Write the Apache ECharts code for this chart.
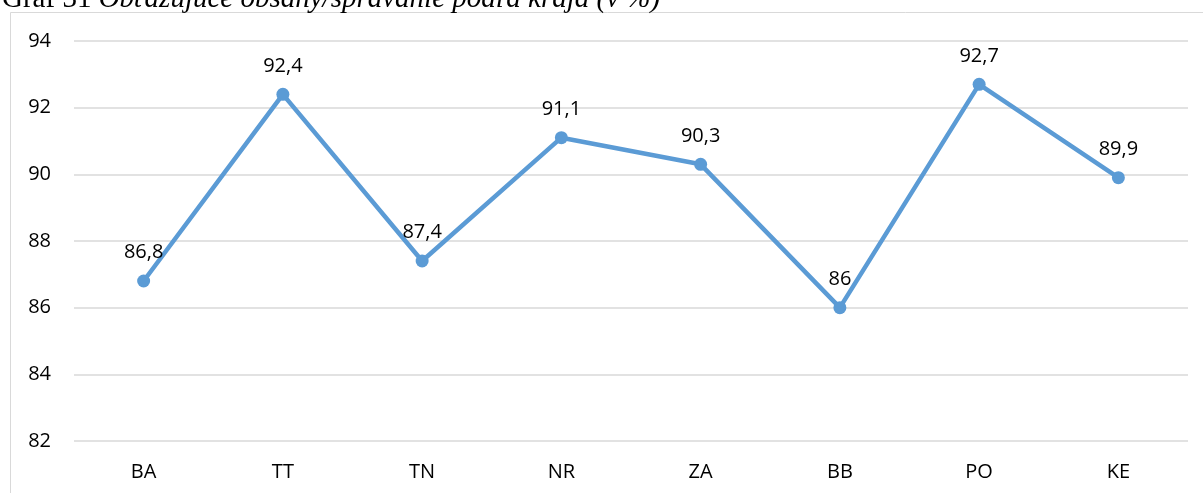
<!DOCTYPE html>
<html>
<head>
<meta charset="utf-8">
<script src="https://cdn.jsdelivr.net/npm/echarts@6/dist/echarts.min.js"></script>
<style>
  html, body { margin: 0; padding: 0; background: #fff; }
  #chart { width: 1203px; height: 493px; }
</style>
</head>
<body>
<div id="chart"></div>
<script>
// Regions of Slovakia and the share (%) reported per region
const regions = ['BA', 'TT', 'TN', 'NR', 'ZA', 'BB', 'PO', 'KE'];
const shares = [86.8, 92.4, 87.4, 91.1, 90.3, 86, 92.7, 89.9];
const yTicks = { min: 82, max: 94, step: 2 };

const chart = echarts.init(document.getElementById('chart'), null, { renderer: 'canvas' });

const font = '"Open Sans", "Noto Sans", sans-serif';

chart.setOption({
  animation: false,
  backgroundColor: '#ffffff',
  graphic: [
    {
      type: 'rect',
      shape: { x: 10.5, y: 12.5, width: 1300, height: 600 },
      style: { fill: 'none', stroke: '#d9d9d9', lineWidth: 1 },
      silent: true,
      z: 0
    },
    {
      type: 'text',
      left: 2,
      top: -15,
      style: {
        rich: {
          n: { fontFamily: '"Liberation Serif", serif', fontSize: 29, fill: '#000' },
          i: { fontFamily: '"Liberation Serif", serif', fontSize: 29, fontStyle: 'italic', fill: '#000' }
        },
        text: '{n|Graf 31 }{i|Obťažujúce obsahy/správanie podľa kraja (v %)}'
      },
      z: 10
    }
  ],
  grid: { left: 74, right: 15, top: 41, bottom: 52, containLabel: false },
  xAxis: {
    type: 'category',
    data: regions,
    boundaryGap: true,
    axisLine: { show: false },
    axisTick: { show: false },
    axisLabel: { color: '#000', fontFamily: font, fontSize: 20, margin: 21 }
  },
  yAxis: {
    type: 'value',
    min: yTicks.min,
    max: yTicks.max,
    interval: yTicks.step,
    axisLine: { show: false },
    axisTick: { show: false },
    axisLabel: { color: '#000', fontFamily: font, fontSize: 20, margin: 23 },
    splitLine: { lineStyle: { color: '#d9d9d9', width: 1.5 } }
  },
  series: [{
    type: 'line',
    data: shares,
    symbol: 'circle',
    symbolSize: 13,
    lineStyle: { color: '#5b9bd5', width: 4.5 },
    itemStyle: { color: '#5b9bd5' },
    label: {
      show: true,
      position: 'top',
      distance: 12,
      color: '#000',
      fontFamily: font,
      fontSize: 20,
      formatter: p => String(p.value).replace('.', ',')
    }
  }]
});
</script>
</body>
</html>
